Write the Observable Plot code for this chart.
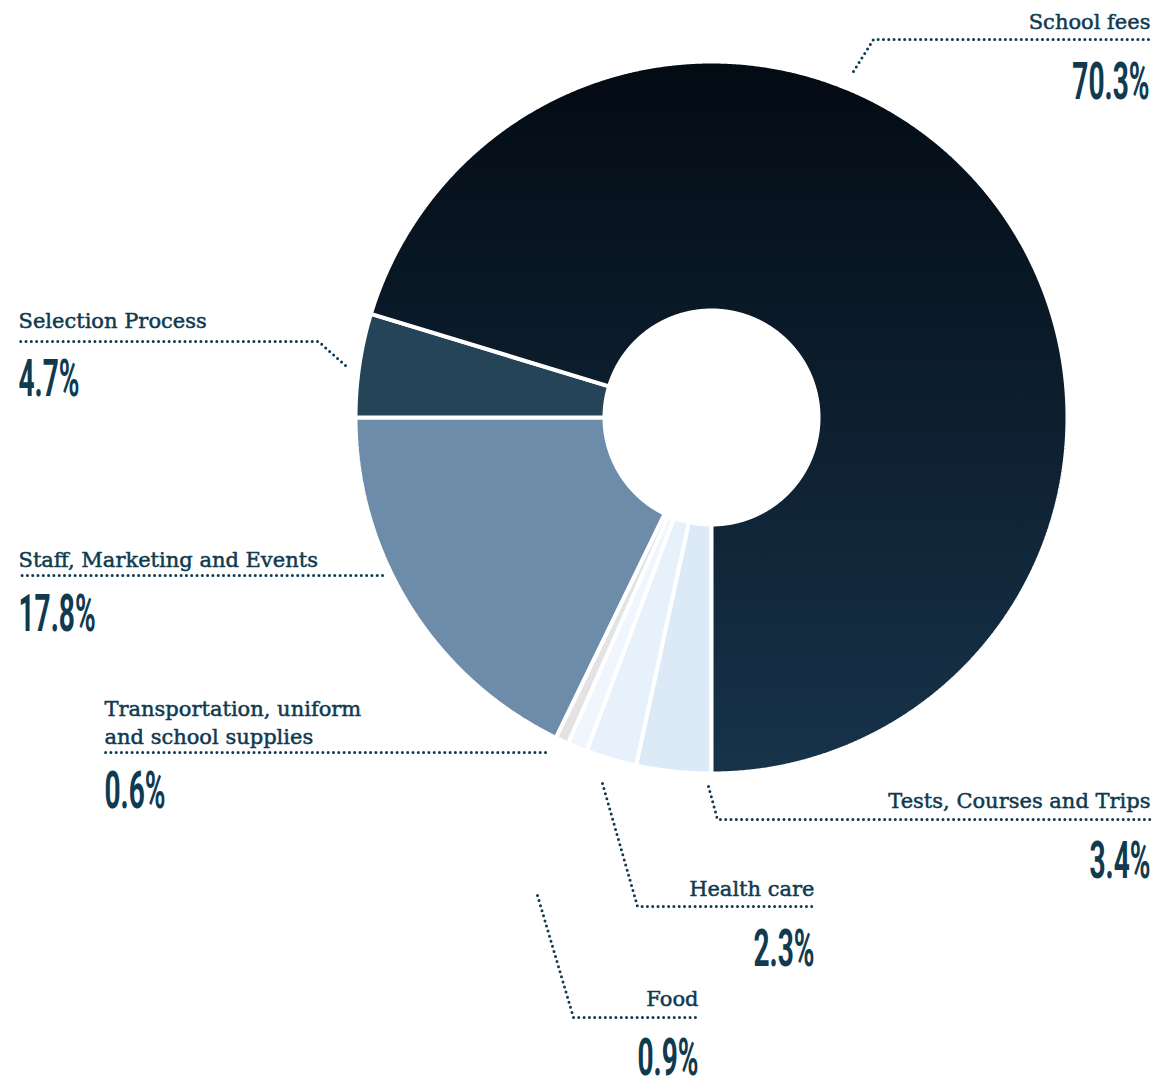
<!DOCTYPE html>
<html><head><meta charset="utf-8">
<script src="https://cdn.jsdelivr.net/npm/d3@7"></script>
<script src="https://cdn.jsdelivr.net/npm/@observablehq/plot@0.6"></script>
<style>html,body{margin:0;padding:0;background:#fff}</style>
</head><body><div id="chart"></div>
<script>
// ---- data (clockwise from 6 o'clock) ----
const categories = ["Tests, Courses and Trips", "Health care", "Food", "Transportation, uniform\nand school supplies", "Staff, Marketing and Events", "Selection Process", "School fees"];
const shares = [3.4, 2.3, 0.9, 0.6, 17.8, 4.7, 70.3];
const pctLabels = ["3.4%", "2.3%", "0.9%", "0.6%", "17.8%", "4.7%", "70.3%"];

// ---- styles ----
const sliceColors = ["#dceaf8", "#e7f1fb", "#eff6fd", "#e3e3e3", "#6c8caa", "#264458", "url(#feesGradient)"];
const textColor = "#0f3a50";

// ---- layout (pixels) ----
const W = 1160, H = 1081, CX = 711, CY = 417, R_OUT = 356, R_IN = 107;
const labelLayout = [
  {x: 1150, y: 807, anchor: "end", px: 1150, py: 877, leader: [[708, 786], [717, 819], [1152, 819]]},
  {x: 814, y: 895, anchor: "end", px: 814, py: 965, leader: [[602, 783], [637, 906], [815, 906]]},
  {x: 698, y: 1005, anchor: "end", px: 698, py: 1074, leader: [[537, 895], [573, 1017], [699, 1017]]},
  {x: 104, y: 743, anchor: "start", px: 104, py: 807, leader: [[545, 752], [104, 752]]},
  {x: 18, y: 566, anchor: "start", px: 18, py: 630, leader: [[382, 575], [18, 575]]},
  {x: 18, y: 327, anchor: "start", px: 18, py: 395, leader: [[345, 365], [318, 341], [18, 341]]},
  {x: 1150, y: 28, anchor: "end", px: 1149, py: 98, leader: [[853, 71], [873, 39], [1150, 39]]}
];
const PCT_SIZE = 51, PCT_SCALE = 0.55;

// ---- derived geometry ----
const arcs = d3.pie().sort(null).startAngle(Math.PI).endAngle(3 * Math.PI)(shares);
const slicePts = [];
arcs.forEach((a, i) => {
  const n = Math.max(3, Math.ceil((a.endAngle - a.startAngle) / 0.004));
  for (let k = 0; k <= n; k++) {
    const t = a.startAngle + (a.endAngle - a.startAngle) * k / n;
    slicePts.push({key: i, color: sliceColors[i], x: CX + R_OUT * Math.sin(t), y: CY - R_OUT * Math.cos(t)});
  }
  for (let k = n; k >= 0; k--) {
    const t = a.startAngle + (a.endAngle - a.startAngle) * k / n;
    slicePts.push({key: i, color: sliceColors[i], x: CX + R_IN * Math.sin(t), y: CY - R_IN * Math.cos(t)});
  }
});
const leaderPts = labelLayout.flatMap((l, i) => l.leader.map(([x, y]) => ({key: i, x, y})));
const labelRows = categories.map((c, i) => ({text: c, ...labelLayout[i]}));
const pctRows = pctLabels.map((p, i) => ({text: p, x: labelLayout[i].px, y: labelLayout[i].py, anchor: labelLayout[i].anchor}));

const labelOpts = {x: "x", y: "y", text: "text", lineAnchor: "bottom", lineHeight: 1.3, fontFamily: "DejaVu Serif", fontSize: 21, fill: textColor, stroke: textColor, strokeWidth: 0.5};
const pctOpts = {x: "x", y: "y", text: "text", lineAnchor: "bottom", fontFamily: "Roboto", fontWeight: 700, fontSize: PCT_SIZE, fill: textColor};

const svg = Plot.plot({
  width: W, height: H,
  margin: 0,
  x: {domain: [0, W], range: [0, W], axis: null},
  y: {domain: [0, H], range: [0, H], axis: null},
  color: {type: "identity"},
  style: {background: "#fff"},
  marks: [
    Plot.line(slicePts, {x: "x", y: "y", z: "key", fill: "color", stroke: "#fff", strokeWidth: 4, curve: "linear-closed", strokeLinejoin: "miter"}),
    Plot.line(leaderPts, {x: "x", y: "y", z: "key", stroke: textColor, strokeWidth: 3, strokeDasharray: "0 5.3", strokeLinecap: "round", curve: "linear"}),
    Plot.text(labelRows.filter(d => d.anchor === "start"), {...labelOpts, textAnchor: "start"}),
    Plot.text(labelRows.filter(d => d.anchor === "end"), {...labelOpts, textAnchor: "end"}),
    Plot.text(pctRows.filter(d => d.anchor === "start"), {...pctOpts, textAnchor: "start"}),
    Plot.text(pctRows.filter(d => d.anchor === "end"), {...pctOpts, textAnchor: "end"})
  ]
});

// gradient definition for the school fees slice
const ns = "http://www.w3.org/2000/svg";
const defs = document.createElementNS(ns, "defs");
const grad = document.createElementNS(ns, "linearGradient");
grad.setAttribute("id", "feesGradient");
grad.setAttribute("x1", "0"); grad.setAttribute("y1", "0"); grad.setAttribute("x2", "0"); grad.setAttribute("y2", "1");
[["0", "#030b14"], ["1", "#17334a"]].forEach(([o, c]) => {
  const s = document.createElementNS(ns, "stop");
  s.setAttribute("offset", o); s.setAttribute("stop-color", c);
  grad.appendChild(s);
});
defs.appendChild(grad);
svg.insertBefore(defs, svg.firstChild);

// condensed look for the percentages: horizontal scale about each text's anchor
svg.querySelectorAll("g").forEach(g => {
  if (g.getAttribute("font-size") != String(PCT_SIZE)) return;
  g.querySelectorAll("text").forEach(t => {
    let tr = t.getAttribute("transform") || "";
    const xa = t.getAttribute("x"), ya = t.getAttribute("y");
    if (!/translate/.test(tr) && xa != null && !/em/.test(xa)) {
      tr = `translate(${xa},${ya && !/em/.test(ya) ? ya : 0})`;
      t.removeAttribute("x");
      if (ya && !/em/.test(ya)) t.removeAttribute("y");
    }
    t.setAttribute("transform", tr + ` scale(${PCT_SCALE},1)`);
  });
});

document.getElementById("chart").appendChild(svg);
</script>
</body></html>
